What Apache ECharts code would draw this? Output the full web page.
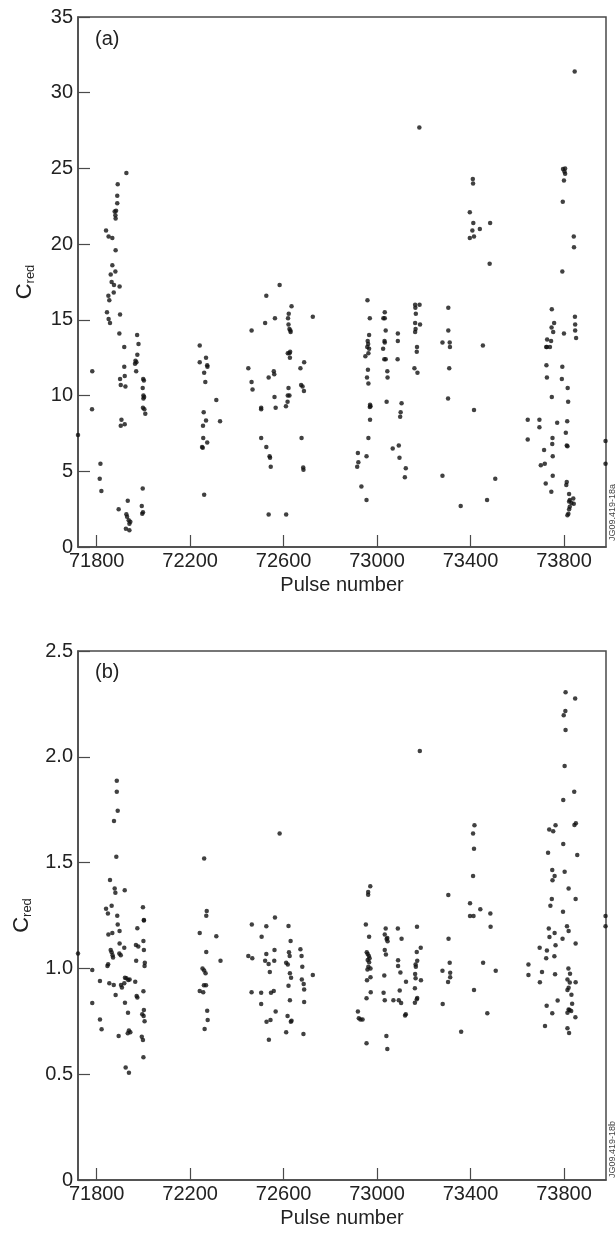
<!DOCTYPE html>
<html>
<head>
<meta charset="utf-8">
<script src="https://cdn.jsdelivr.net/npm/echarts@6/dist/echarts.min.js"></script>
<style>
  html, body { margin: 0; padding: 0; background: #fff; }
  #main { width: 615px; height: 1233px; }
</style>
</head>
<body>
<div id="main"></div>
<script>
// pulse number range shown and the labelled ticks
const pulseMin = 71720;
const pulseMax = 73980;
const pulseTicks = [71800, 72200, 72600, 73000, 73400, 73800];

// (a) reduced chi-square per pulse, [pulse, Cred]
const pointsA = [
  [71927, 24.7], [71890, 23.95], [71888, 23.2], [71888, 22.7], [71883, 22.2], [71877, 22.15],
  [71880, 21.9], [71881, 21.7], [71840, 20.9], [71851, 20.5], [71867, 20.4], [71881, 19.6],
  [71867, 18.6], [71860, 18.0], [71880, 18.2], [71864, 17.5], [71874, 17.3], [71898, 17.2],
  [71873, 16.8], [71850, 16.6], [71854, 16.3], [71844, 15.5], [71900, 15.35], [72526, 16.6],
  [72583, 17.3], [72634, 15.9], [72563, 15.1],
  [71851, 15.05], [71857, 14.8], [71897, 14.1], [71918, 13.2], [71973, 14.0], [71979, 13.4],
  [71974, 12.7], [71966, 12.3], [71970, 12.2], [71964, 12.1], [71969, 11.6], [71918, 11.9],
  [71920, 11.3], [71900, 11.1], [71903, 10.7], [71923, 10.6], [71781, 11.6], [71780, 9.1],
  [71720, 7.4], [71999, 11.1], [72002, 11.0], [71997, 10.5], [72000, 10.0], [72003, 9.9],
  [72000, 9.8], [71998, 9.2], [72004, 9.1], [72008, 8.8], [71906, 8.4], [71903, 8.0],
  [71920, 8.1], [71816, 5.5], [71813, 4.5], [71820, 3.7], [71894, 2.5], [71933, 3.05],
  [71927, 2.17], [71930, 2.0], [71937, 1.77], [71944, 1.66], [71940, 1.53], [71925, 1.2],
  [71940, 1.1], [71997, 3.87], [71993, 2.7], [71995, 2.2], [71998, 2.3],
  [72241, 13.3], [72241, 12.2], [72268, 12.5], [72273, 12.0], [72274, 11.9], [72260, 11.5],
  [72265, 10.9], [72312, 9.7], [72328, 8.3], [72258, 8.9], [72268, 8.35], [72255, 8.0],
  [72256, 7.2], [72251, 6.6], [72254, 6.55], [72273, 6.9], [72260, 3.45],
  [72449, 11.8], [72463, 14.3], [72463, 10.9], [72467, 10.4], [72521, 14.8], [72504, 9.2],
  [72504, 9.1], [72504, 7.2], [72526, 6.6], [72540, 6.0], [72542, 5.9], [72545, 5.3],
  [72536, 11.2], [72558, 11.6], [72560, 11.4], [72561, 9.9], [72566, 9.2], [72536, 2.15],
  [72611, 2.15], [72622, 15.4], [72619, 15.1], [72621, 14.7], [72625, 14.4], [72629, 14.3],
  [72630, 14.2], [72618, 12.8], [72625, 12.8], [72628, 12.9], [72627, 12.5], [72621, 10.5],
  [72618, 10.0], [72625, 10.0], [72617, 9.6], [72610, 9.3], [72672, 11.8], [72688, 12.2],
  [72675, 10.7], [72681, 10.6], [72687, 10.3], [72677, 7.2], [72684, 5.25], [72685, 5.1],
  [72725, 15.2],
  [73846, 31.4], [73181, 27.7], [73410, 24.3], [73411, 24.0], [73397, 22.1], [73412, 21.4],
  [73408, 20.9], [73440, 21.0], [73484, 21.4], [73397, 20.4], [73415, 20.5], [73482, 18.7],
  [73796, 24.97], [73805, 25.0], [73802, 24.8], [73805, 24.65], [73800, 24.2], [73795, 22.8],
  [73842, 20.5], [73843, 19.8], [73793, 18.2], [72959, 16.3], [73748, 15.7], [73847, 15.2],
  [73163, 16.0], [73164, 15.8], [73182, 16.0], [73166, 15.4], [73305, 15.8], [72969, 15.1],
  [73033, 15.5], [73027, 15.1], [73033, 15.1],
  [73163, 14.8], [73184, 14.7], [73165, 14.4], [73163, 14.2], [73171, 13.2], [73170, 12.9],
  [73160, 11.8], [73173, 11.5], [73305, 14.3], [73280, 13.5], [73311, 13.5], [73312, 13.2],
  [73309, 11.8], [73304, 9.8], [73453, 13.3], [73415, 9.05], [73280, 4.7], [73358, 2.7],
  [73506, 4.5], [73471, 3.1],
  [72966, 14.0], [72960, 13.6], [72962, 13.4], [72958, 13.2], [72966, 13.1], [72963, 12.8],
  [72950, 12.6], [72961, 11.7], [72957, 11.2], [72963, 10.8], [72970, 9.4], [72972, 9.3],
  [72969, 9.25], [72970, 8.4], [72963, 7.2], [72955, 6.0], [72918, 6.2], [72920, 5.6],
  [72915, 5.3], [72933, 4.0], [72955, 3.1],
  [73037, 14.3], [73032, 13.6], [73033, 13.5], [73026, 13.1], [73031, 12.4], [73037, 12.4],
  [73044, 11.6], [73045, 11.2], [73041, 9.6], [73089, 14.1], [73089, 13.6], [73088, 12.4],
  [73105, 9.5], [73101, 8.9], [73099, 8.6], [73067, 6.5], [73093, 6.7], [73096, 5.9],
  [73123, 5.2], [73119, 4.6],
  [73645, 8.4], [73645, 7.1], [73695, 8.4], [73695, 7.9], [73758, 14.8], [73747, 14.5],
  [73754, 14.2], [73728, 13.7], [73745, 13.6], [73727, 13.2], [73724, 13.2], [73740, 13.2],
  [73725, 12.0], [73727, 11.2], [73748, 9.9], [73771, 8.2], [73751, 7.2], [73750, 6.8],
  [73715, 6.4], [73752, 6.0], [73701, 5.4], [73718, 5.5], [73752, 4.7], [73722, 4.2],
  [73746, 3.65], [73800, 14.1], [73793, 11.9], [73791, 11.1], [73816, 10.5], [73818, 9.6],
  [73814, 8.3], [73808, 7.55], [73812, 6.7], [73815, 6.65], [73812, 4.3], [73810, 4.1],
  [73822, 3.5], [73825, 3.1], [73822, 3.0], [73832, 2.9], [73840, 3.2], [73842, 2.85],
  [73825, 2.65], [73822, 2.5], [73819, 2.2], [73815, 2.1], [73848, 14.7], [73848, 14.3],
  [73852, 13.8], [73978, 7.0], [73978, 5.5]
];

// (b) same pulses, second analysis
const pointsB = [
  [71886, 1.887], [71886, 1.835], [71890, 1.745], [71874, 1.697], [71884, 1.528], [71857, 1.418],
  [71877, 1.378], [71880, 1.358], [71920, 1.369], [71840, 1.282], [71864, 1.296], [71848, 1.259],
  [71888, 1.249], [71998, 1.289], [72002, 1.229], [71890, 1.208], [71898, 1.177], [71850, 1.16],
  [71867, 1.167], [71974, 1.19], [72260, 1.519], [72269, 1.249], [72271, 1.271], [72241, 1.167],
  [72312, 1.152], [72583, 1.638], [72464, 1.208], [72506, 1.15], [72526, 1.199], [72563, 1.24],
  [72621, 1.2],
  [73183, 2.027], [73807, 2.305], [73848, 2.275], [73806, 2.216], [73799, 2.196], [73807, 2.127],
  [73803, 1.957], [73797, 1.796], [73844, 1.835], [73845, 1.678], [73851, 1.686], [73417, 1.676],
  [73411, 1.637], [73415, 1.566], [73411, 1.437], [73305, 1.347], [73398, 1.308], [73398, 1.248],
  [73413, 1.248], [73442, 1.279], [73485, 1.259], [73486, 1.197], [73737, 1.657], [73754, 1.648],
  [73764, 1.676], [73732, 1.547], [73797, 1.588], [73857, 1.536], [73750, 1.465], [73760, 1.437],
  [73751, 1.416], [73803, 1.457], [73820, 1.378], [73748, 1.328], [73742, 1.296], [73850, 1.328],
  [73796, 1.268], [73735, 1.188], [73738, 1.148], [73760, 1.167], [73813, 1.199], [73820, 1.177],
  [73794, 1.14], [72971, 1.388], [72962, 1.361], [72962, 1.348], [72952, 1.208], [72966, 1.15],
  [73037, 1.188], [73033, 1.16], [73044, 1.144], [73089, 1.188], [73105, 1.14], [73171, 1.197],
  [73306, 1.14], [73978, 1.248], [73978, 1.199],
  [71720, 1.07], [71781, 0.992], [71781, 0.836], [71814, 0.94], [71814, 0.759], [71821, 0.712],
  [71894, 0.68], [71860, 1.087], [71864, 1.076], [71868, 1.062], [71870, 1.051], [71846, 1.011],
  [71849, 1.02], [71854, 0.93], [71873, 0.922], [71881, 0.874], [71898, 1.118], [71897, 1.071],
  [71903, 1.062], [71918, 1.098], [71904, 0.922], [71908, 0.91], [71921, 0.956], [71927, 0.953],
  [71935, 0.945], [71941, 0.948], [71918, 0.93], [71921, 0.838], [71934, 0.79], [71933, 0.693],
  [71944, 0.698], [71938, 0.706], [71924, 0.532], [71938, 0.507], [71968, 1.11], [71978, 1.103],
  [71969, 1.036], [71965, 0.937], [71971, 0.87], [71974, 0.863], [72002, 1.226], [72000, 1.13],
  [72002, 1.087], [72006, 1.027], [72005, 1.011], [72000, 0.892], [72002, 0.803], [71995, 0.783],
  [72001, 0.775], [72005, 0.75], [71993, 0.677], [71998, 0.662], [72000, 0.58],
  [72269, 1.077], [72330, 1.036], [72253, 1.0], [72260, 0.99], [72266, 0.977], [72259, 0.92],
  [72268, 0.92], [72241, 0.893], [72256, 0.887], [72273, 0.8], [72275, 0.756], [72262, 0.714],
  [72449, 1.059], [72466, 1.048], [72463, 0.887], [72526, 1.068], [72536, 1.021], [72541, 0.983],
  [72521, 1.036], [72561, 1.087], [72560, 1.036], [72504, 0.885], [72504, 0.832], [72546, 0.885],
  [72558, 0.893], [72527, 0.748], [72544, 0.756], [72566, 0.796], [72537, 0.663], [72630, 1.13],
  [72623, 1.076], [72626, 1.059], [72611, 1.027], [72618, 1.019], [72627, 0.977], [72632, 0.956],
  [72621, 0.918], [72627, 0.849], [72617, 0.775], [72631, 0.748], [72634, 0.753], [72611, 0.698],
  [72672, 1.09], [72677, 1.059], [72680, 1.008], [72678, 0.948], [72686, 0.926], [72688, 0.9],
  [72688, 0.841], [72685, 0.69], [72725, 0.969],
  [72956, 1.076], [72960, 1.068], [72965, 1.059], [72968, 1.048], [72960, 1.04], [72966, 1.029],
  [72963, 1.008], [72959, 0.995], [72972, 1.0], [72972, 0.958], [72957, 0.944], [72973, 0.887],
  [72955, 0.859], [72918, 0.796], [72922, 0.764], [72929, 0.759], [72938, 0.759], [72955, 0.646],
  [73041, 1.139], [73045, 1.128], [73033, 1.087], [73038, 1.066], [73031, 0.966], [73028, 0.885],
  [73033, 0.85], [73040, 0.68], [73044, 0.619], [73097, 0.895], [73103, 0.837], [73090, 1.038],
  [73090, 1.011], [73100, 0.981], [73124, 0.937], [73070, 0.85], [73093, 0.85], [73123, 0.783],
  [73120, 0.777], [73187, 1.098], [73170, 1.077], [73172, 1.036], [73165, 1.019], [73166, 1.008],
  [73163, 0.974], [73165, 0.953], [73188, 0.944], [73162, 0.906], [73172, 0.86], [73170, 0.854],
  [73162, 0.838], [73280, 0.989], [73311, 1.027], [73313, 0.98], [73313, 0.958], [73304, 0.936],
  [73281, 0.832], [73360, 0.701], [73415, 0.898], [73454, 1.027], [73508, 0.989], [73472, 0.788],
  [73696, 1.098], [73727, 1.085], [73724, 1.048], [73764, 1.109], [73759, 1.057], [73648, 1.019],
  [73648, 0.969], [73706, 0.983], [73697, 0.934], [73762, 0.972], [73726, 0.824], [73750, 0.788],
  [73773, 0.848], [73719, 0.728], [73850, 1.118], [73819, 0.999], [73826, 0.975], [73815, 0.948],
  [73825, 0.933], [73815, 0.898], [73820, 0.909], [73850, 0.934], [73832, 0.876], [73835, 0.833],
  [73815, 0.79], [73820, 0.806], [73824, 0.803], [73831, 0.799], [73849, 0.769], [73815, 0.717],
  [73822, 0.695]
];

const font = 'Liberation Sans, Arial, Helvetica, sans-serif';
const ink = '#222';
const frame = '#4a4a4a';

/**
 * x axis shared by both panels, ticks only at the labelled pulses
 */
function pulseAxis(gridIndex) {
  return {
    type: 'value',
    gridIndex: gridIndex,
    min: pulseMin,
    max: pulseMax,
    name: 'Pulse number',
    nameLocation: 'middle',
    nameGap: 28,
    nameTextStyle: { fontFamily: font, fontSize: 20, color: ink },
    axisLine: { show: true, onZero: false, lineStyle: { color: frame, width: 1.5 } },
    axisTick: { show: true, inside: true, length: 12, customValues: pulseTicks,
      lineStyle: { color: frame, width: 1.2 } },
    axisLabel: { customValues: pulseTicks, fontFamily: font, fontSize: 20, color: ink, margin: 4,
      formatter: v => String(v) },
    splitLine: { show: false }
  };
}

/**
 * y axis with the rotated C_red label
 */
function credAxis(gridIndex, max, interval, fmt) {
  return {
    type: 'value',
    gridIndex: gridIndex,
    min: 0,
    max: max,
    interval: interval,
    name: '{c|C}{s|red}',
    nameLocation: 'middle',
    nameGap: 41,
    nameTextStyle: {
      color: ink,
      rich: {
        c: { fontFamily: font, fontSize: 22, color: ink, lineHeight: 24 },
        s: { fontFamily: font, fontSize: 13, color: ink, lineHeight: 24, verticalAlign: 'bottom', padding: [9, 0, 0, 0] }
      }
    },
    axisLine: { show: true, lineStyle: { color: frame, width: 1.5 } },
    axisTick: { show: true, inside: true, length: 12, lineStyle: { color: frame, width: 1.2 } },
    axisLabel: { fontFamily: font, fontSize: 20, color: ink, margin: 5, formatter: fmt },
    splitLine: { show: false }
  };
}

function dots(xi, yi, data) {
  return {
    type: 'scatter',
    xAxisIndex: xi,
    yAxisIndex: yi,
    data: data,
    symbol: 'circle',
    symbolSize: 4.5,
    clip: false,
    itemStyle: { color: '#111' },
    animation: false
  };
}

const chart = echarts.init(document.getElementById('main'));
chart.setOption({
  backgroundColor: '#fff',
  animation: false,
  grid: [
    { left: 78, right: 9, top: 17, height: 530, show: true, borderColor: frame, borderWidth: 1.5 },
    { left: 78, right: 9, top: 651, height: 529, show: true, borderColor: frame, borderWidth: 1.5 }
  ],
  xAxis: [pulseAxis(0), pulseAxis(1)],
  yAxis: [
    credAxis(0, 35, 5, v => String(v)),
    credAxis(1, 2.5, 0.5, v => (v === 0 ? '0' : v.toFixed(1)))
  ],
  series: [dots(0, 0, pointsA), dots(1, 1, pointsB)],
  graphic: [
    { type: 'text', left: 95, top: 29, style: { text: '(a)', font: '20px ' + font, fill: ink } },
    { type: 'text', left: 95, top: 662, style: { text: '(b)', font: '20px ' + font, fill: ink } },
    { type: 'text', x: 613, y: 541, rotation: Math.PI / 2,
      style: { text: 'JG09.419-18a', font: '9px ' + font, fill: '#444', textAlign: 'left', textVerticalAlign: 'middle' } },
    { type: 'text', x: 613, y: 1178, rotation: Math.PI / 2,
      style: { text: 'JG09.419-18b', font: '9px ' + font, fill: '#444', textAlign: 'left', textVerticalAlign: 'middle' } }
  ]
});
</script>
</body>
</html>
